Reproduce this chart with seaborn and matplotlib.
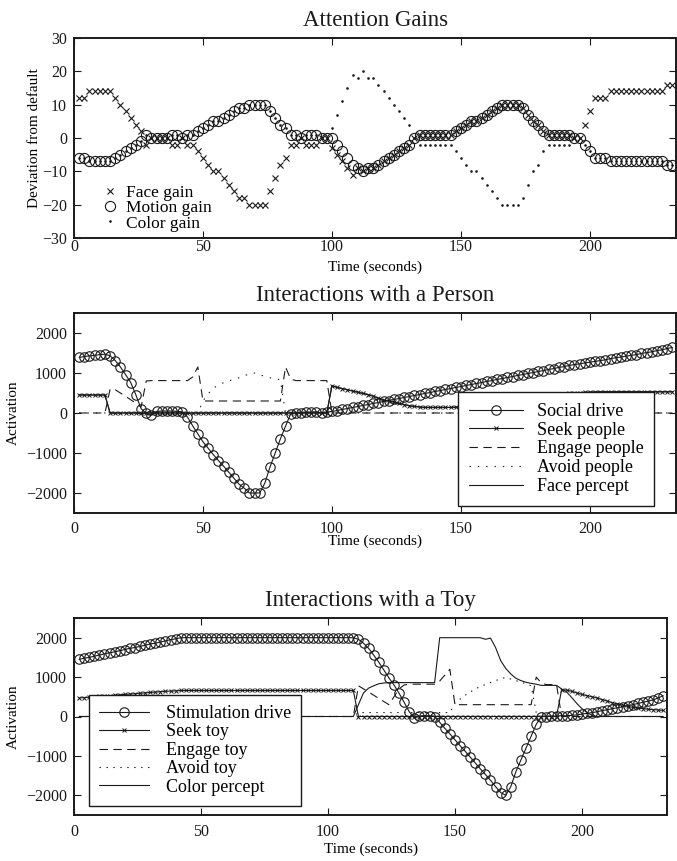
import numpy as np
import pandas as pd
import matplotlib
matplotlib.use("Agg")
import matplotlib.pyplot as plt
import seaborn as sns

# ---------------- data ----------------
TIME = [2, 4, 6, 8, 10, 12, 14, 16, 18, 20,
        22, 24, 26, 28, 30, 32, 34, 36, 38, 40,
        42, 44, 46, 48, 50, 52, 54, 56, 58, 60,
        62, 64, 66, 68, 70, 72, 74, 76, 78, 80,
        82, 84, 86, 88, 90, 92, 94, 96, 98, 100,
        102, 104, 106, 108, 110, 112, 114, 116, 118, 120,
        122, 124, 126, 128, 130, 132, 134, 136, 138, 140,
        142, 144, 146, 148, 150, 152, 154, 156, 158, 160,
        162, 164, 166, 168, 170, 172, 174, 176, 178, 180,
        182, 184, 186, 188, 190, 192, 194, 196, 198, 200,
        202, 204, 206, 208, 210, 212, 214, 216, 218, 220,
        222, 224, 226, 228, 230, 232]

FACE_GAIN = [12, 12, 14, 14, 14, 14, 14, 12, 10, 8,
             6, 4, 2, -2, 0, 0, 0, 0, -2, -2,
             0, -2, -2, -4, -6, -8, -10, -10, -12, -14,
             -16, -18, -18, -20, -20, -20, -20, -16, -12, -8,
             -6, -2, -2, 0, -2, -2, -2, 0, 0, -3,
             -5, -7, -9, -11, -9, -10, -9, -9, -8, -7,
             -6, -5, -4, -3, -2, 0, 1, 1, 1, 1,
             1, 1, 1, 2, 3, 4, 5, 5, 6, 7,
             8, 9, 10, 10, 10, 10, 9, 7, 5, 4,
             2, 1, 1, 1, 1, 1, 0, 0, 4, 8,
             12, 12, 12, 14, 14, 14, 14, 14, 14, 14,
             14, 14, 14, 14, 16, 16]

MOTION_GAIN = [-6, -6, -7, -7, -7, -7, -7, -6, -5, -4,
               -3, -2, -1, 1, 0, 0, 0, 0, 1, 1,
               0, 1, 1, 2, 3, 4, 5, 5, 6, 7,
               8, 9, 9, 10, 10, 10, 10, 8, 6, 4,
               3, 1, 1, 0, 1, 1, 1, 0, 0, 0,
               -2, -4, -6, -8, -9, -10, -9, -9, -8, -7,
               -6, -5, -4, -3, -2, 0, 1, 1, 1, 1,
               1, 1, 1, 2, 3, 4, 5, 5, 6, 7,
               8, 9, 10, 10, 10, 10, 9, 7, 5, 4,
               2, 1, 1, 1, 1, 1, 0, 0, -2, -4,
               -6, -6, -6, -7, -7, -7, -7, -7, -7, -7,
               -7, -7, -7, -7, -8, -8]

COLOR_GAIN = [-6, -6, -7, -7, -7, -7, -7, -6, -5, -4,
              -3, -2, -1, 1, 0, 0, 0, 0, 1, 1,
              0, 1, 1, 2, 3, 4, 5, 5, 6, 7,
              8, 9, 9, 10, 10, 10, 10, 8, 6, 4,
              3, 1, 1, 0, 1, 1, 1, 0, 0, 3,
              7, 11, 15, 19, 18, 20, 18, 18, 16, 14,
              12, 10, 8, 6, 4, 0, -2, -2, -2, -2,
              -2, -2, -2, -4, -6, -8, -10, -10, -12, -14,
              -16, -18, -20, -20, -20, -20, -18, -14, -10, -8,
              -4, -2, -2, -2, -2, -2, 0, 0, -2, -4,
              -6, -6, -6, -7, -7, -7, -7, -7, -7, -7,
              -7, -7, -7, -7, -8, -8]

SOCIAL_DRIVE = [1390, 1410, 1430, 1440, 1460, 1470, 1430, 1310, 1150, 960,
                760, 450, 110, -10, -60, 40, 50, 50, 50, 40,
                30, -100, -320, -520, -720, -880, -1040, -1190, -1330, -1480,
                -1630, -1780, -1880, -2000, -2000, -2000, -1750, -1350, -1000, -650,
                -330, -20, 0, 0, 20, 20, 30, 0, 20, 40,
                60, 90, 110, 140, 160, 190, 210, 240, 260, 290,
                310, 340, 360, 390, 410, 440, 460, 490, 510, 540,
                560, 590, 610, 640, 660, 690, 710, 740, 760, 790,
                810, 840, 860, 890, 910, 940, 960, 990, 1010, 1040,
                1060, 1090, 1110, 1140, 1160, 1190, 1210, 1230, 1250, 1270,
                1290, 1310, 1330, 1360, 1380, 1400, 1420, 1440, 1460, 1490,
                1510, 1530, 1560, 1580, 1610, 1640]

SEEK_PEOPLE = [450, 450, 450, 450, 450, 450, 0, 0, 0, 0,
               0, 0, 0, 0, 0, 0, 0, 0, 0, 0,
               0, 0, 0, 0, 0, 0, 0, 0, 0, 0,
               0, 0, 0, 0, 0, 0, 0, 0, 0, 0,
               0, 0, 0, 0, 0, 0, 0, 0, 0, 680,
               640, 610, 580, 550, 520, 490, 460, 420, 370, 320,
               300, 270, 240, 210, 180, 165, 150, 140, 140, 140,
               140, 140, 140, 145, 150, 160, 175, 190, 205, 225,
               245, 260, 280, 300, 315, 335, 350, 370, 385, 400,
               420, 435, 450, 465, 480, 490, 500, 510, 515, 520,
               525, 528, 530, 530, 530, 530, 530, 530, 530, 530,
               530, 530, 530, 530, 530, 530]

ENGAGE_PEOPLE = [0, 0, 0, 0, 0, 0, 600, 580, 500, 420,
                 330, 250, 150, 800, 810, 810, 810, 810, 810, 810,
                 810, 810, 900, 1150, 300, 300, 300, 300, 300, 300,
                 300, 300, 300, 300, 300, 300, 300, 300, 300, 300,
                 1150, 850, 810, 810, 810, 810, 810, 810, 810, 0,
                 0, 0, 0, 0, 0, 0, 0, 0, 0, 0,
                 0, 0, 0, 0, 0, 0, 0, 0, 0, 0,
                 0, 0, 0, 0, 0, 0, 0, 0, 0, 0,
                 0, 0, 0, 0, 0, 0, 0, 0, 0, 0,
                 0, 0, 0, 0, 0, 0, 0, 0, 0, 0,
                 0, 0, 0, 0, 0, 0, 0, 0, 0, 0,
                 0, 0, 0, 0, 0, 0]

AVOID_PEOPLE = [0, 0, 0, 0, 0, 0, 0, 0, 0, 0,
                0, 0, 0, 0, 0, 0, 0, 0, 0, 0,
                0, 0, 0, 0, 300, 480, 620, 700, 760, 800,
                850, 880, 930, 980, 1000, 950, 920, 880, 860, 830,
                0, 0, 0, 0, 0, 0, 0, 0, 0, 0,
                0, 0, 0, 0, 0, 0, 0, 0, 0, 0,
                0, 0, 0, 0, 0, 0, 0, 0, 0, 0,
                0, 0, 0, 0, 0, 0, 0, 0, 0, 0,
                0, 0, 0, 0, 0, 0, 0, 0, 0, 0,
                0, 0, 0, 0, 0, 0, 0, 0, 0, 0,
                0, 0, 0, 0, 0, 0, 0, 0, 0, 0,
                0, 0, 0, 0, 0, 0]

FACE_PERCEPT = [450, 450, 450, 450, 450, 450, 0, 0, 0, 0,
                0, 0, 0, 0, 0, 0, 0, 0, 0, 0,
                0, 0, 0, 0, 0, 0, 0, 0, 0, 0,
                0, 0, 0, 0, 0, 0, 0, 0, 0, 0,
                0, 0, 0, 0, 0, 0, 0, 0, 0, 680,
                640, 610, 580, 550, 520, 490, 460, 420, 370, 320,
                300, 270, 240, 210, 180, 165, 150, 140, 140, 140,
                140, 140, 140, 145, 150, 160, 175, 190, 205, 225,
                245, 260, 280, 300, 315, 335, 350, 370, 385, 400,
                420, 435, 450, 465, 480, 490, 500, 510, 515, 520,
                525, 528, 530, 530, 530, 530, 530, 530, 530, 530,
                530, 530, 530, 530, 530, 530]

STIM_DRIVE = [1450, 1480, 1500, 1530, 1560, 1590, 1620, 1640, 1670, 1700,
              1730, 1750, 1780, 1810, 1840, 1860, 1890, 1920, 1950, 1970,
              2000, 2000, 2000, 2000, 2000, 2000, 2000, 2000, 2000, 2000,
              2000, 2000, 2000, 2000, 2000, 2000, 2000, 2000, 2000, 2000,
              2000, 2000, 2000, 2000, 2000, 2000, 2000, 2000, 2000, 2000,
              2000, 2000, 2000, 2000, 2000, 1960, 1860, 1730, 1560, 1380,
              1180, 980, 800, 590, 360, 120, -40, 10, 20, 20,
              0, -150, -300, -440, -590, -740, -880, -1030, -1180, -1330,
              -1470, -1620, -1780, -1930, -2000, -1780, -1400, -1100, -800, -500,
              -200, 0, 0, 10, 10, 20, 20, 30, 40, 60,
              80, 100, 120, 150, 170, 200, 220, 250, 270, 300,
              330, 360, 390, 420, 470, 530]

SEEK_TOY = [470, 480, 490, 500, 510, 520, 530, 540, 550, 560,
            570, 580, 590, 600, 610, 620, 630, 640, 645, 650,
            660, 660, 660, 660, 660, 660, 660, 660, 660, 660,
            660, 660, 660, 660, 660, 660, 660, 660, 660, 660,
            660, 660, 660, 660, 660, 660, 660, 660, 660, 660,
            660, 660, 660, 660, 660, 0, 0, 0, 0, 0,
            0, 0, 0, 0, 0, 0, 0, 0, 0, 0,
            0, 0, 0, 0, 0, 0, 0, 0, 0, 0,
            0, 0, 0, 0, 0, 0, 0, 0, 0, 0,
            0, 0, 0, 0, 0, 680, 670, 640, 600, 560,
            530, 500, 470, 430, 390, 350, 320, 290, 260, 230,
            215, 200, 185, 175, 165, 155]

ENGAGE_TOY = [0, 0, 0, 0, 0, 0, 0, 0, 0, 0,
              0, 0, 0, 0, 0, 0, 0, 0, 0, 0,
              0, 0, 0, 0, 0, 0, 0, 0, 0, 0,
              0, 0, 0, 0, 0, 0, 0, 0, 0, 0,
              0, 0, 0, 0, 0, 0, 0, 0, 0, 0,
              0, 0, 0, 0, 0, 780, 700, 620, 540, 460,
              380, 300, 500, 700, 800, 820, 820, 820, 820, 820,
              820, 900, 1050, 1200, 300, 300, 300, 300, 300, 300,
              300, 300, 300, 300, 300, 300, 300, 300, 300, 300,
              1000, 850, 810, 810, 810, 0, 0, 0, 0, 0,
              0, 0, 0, 0, 0, 0, 0, 0, 0, 0,
              0, 0, 0, 0, 0, 0]

AVOID_TOY = [0, 0, 0, 0, 0, 0, 0, 0, 0, 0,
             0, 0, 0, 0, 0, 0, 0, 0, 0, 0,
             0, 0, 0, 0, 0, 0, 0, 0, 0, 0,
             0, 0, 0, 0, 0, 0, 0, 0, 0, 0,
             0, 0, 0, 0, 0, 0, 0, 0, 0, 0,
             0, 0, 0, 0, 0, 100, 100, 100, 100, 100,
             100, 100, 100, 100, 100, 100, 100, 100, 100, 100,
             100, 100, 100, 100, 340, 440, 540, 620, 700, 760,
             810, 860, 910, 960, 990, 950, 910, 870, 830, 780,
             100, 100, 100, 100, 100, 0, 0, 0, 0, 0,
             0, 0, 0, 0, 0, 0, 0, 0, 0, 0,
             0, 0, 0, 0, 0, 0]

COLOR_PERCEPT = [0, 0, 0, 0, 0, 0, 0, 0, 0, 0,
                 0, 0, 0, 0, 0, 0, 0, 0, 0, 0,
                 0, 0, 0, 0, 0, 0, 0, 0, 0, 0,
                 0, 0, 0, 0, 0, 0, 0, 0, 0, 0,
                 0, 0, 0, 0, 0, 0, 0, 0, 0, 0,
                 0, 0, 0, 0, 0, 300, 600, 720, 780, 830,
                 850, 860, 860, 860, 860, 860, 860, 860, 860, 860,
                 860, 2000, 2000, 2000, 2000, 2000, 2000, 2000, 2000, 2000,
                 1960, 1990, 1750, 1420, 1220, 1080, 970, 910, 870, 840,
                 820, 790, 790, 790, 790, 700, 620, 480, 330, 200,
                 100, 30, 0, 0, 0, 0, 0, 0, 0, 0,
                 0, 0, 0, 0, 0, 0]

GAIN_LABELS = ["Face gain", "Motion gain", "Color gain"]
PERSON_LABELS = ["Social drive", "Seek people", "Engage people", "Avoid people", "Face percept"]
TOY_LABELS = ["Stimulation drive", "Seek toy", "Engage toy", "Avoid toy", "Color percept"]
TITLES = ["Attention Gains", "Interactions with a Person", "Interactions with a Toy"]
XTICKS = [0, 50, 100, 150, 200]

# ---------------- style ----------------
sns.set_theme(style="ticks")
plt.rcParams["font.family"] = ["Liberation Serif", "DejaVu Serif"]
plt.rcParams["axes.unicode_minus"] = True
plt.rcParams["lines.scale_dashes"] = False
plt.rcParams["text.color"] = "black"
plt.rcParams["axes.labelcolor"] = "black"

W, H = 677, 861
fig = plt.figure(figsize=(W / 100, H / 100), dpi=100)
fig.patch.set_facecolor("white")


def px_axes(l, t, r, b):
    return fig.add_axes([l / W, 1 - b / H, (r - l) / W, (b - t) / H])


ax1 = px_axes(74, 38, 676.3, 238)
ax2 = px_axes(74, 313, 676.3, 513)
ax3 = px_axes(74, 618, 667, 815)


def style(ax, ylim, yticks, title, ylabel, xpad, ylab_x, xlab_y):
    ax.set_facecolor("white")
    ax.set_xlim(0, 233.5)
    ax.set_ylim(*ylim)
    ax.set_xticks(XTICKS)
    ax.set_yticks(yticks)
    ax.tick_params(direction="in", top=True, right=True, length=5, width=0.8,
                   labelsize=11.5, color="k", labelcolor="k")
    ax.tick_params(axis="x", pad=xpad)
    ax.tick_params(axis="y", pad=5)
    for s in ax.spines.values():
        s.set_visible(True)
        s.set_linewidth(1.4)
        s.set_color("k")
    ax.set_title(title, fontsize=16.5, pad=8.5, color="k")
    ax.set_xlabel("Time (seconds)", fontsize=11)
    ax.set_ylabel(ylabel, fontsize=11)
    ax.xaxis.set_label_coords(0.5, xlab_y)
    ax.yaxis.set_label_coords(ylab_x, 0.5)


LW = 0.8

# ---------------- panel 1 ----------------
df1 = pd.DataFrame({"t": TIME, "face": FACE_GAIN, "motion": MOTION_GAIN, "color": COLOR_GAIN})
h1 = []
sns.lineplot(data=df1, x="t", y="face", ax=ax1, estimator=None, sort=False, legend=False,
             color="k", linestyle="none", marker="x", markersize=4.5,
             markeredgewidth=0.8, markeredgecolor="k")
h1.append(ax1.lines[-1])
sns.lineplot(data=df1, x="t", y="motion", ax=ax1, estimator=None, sort=False, legend=False,
             color="k", linestyle="none", marker="o", markersize=7.3,
             markerfacecolor="none", markeredgewidth=0.8, markeredgecolor="k")
h1.append(ax1.lines[-1])
sns.lineplot(data=df1, x="t", y="color", ax=ax1, estimator=None, sort=False, legend=False,
             color="k", linestyle="none", marker="o", markersize=1.9,
             markerfacecolor="k", markeredgewidth=0.0, markeredgecolor="k")
h1.append(ax1.lines[-1])
style(ax1, (-30, 30), [-30, -20, -10, 0, 10, 20, 30], TITLES[0],
      "Deviation from default", 1.0, -0.054, -0.115)
leg1 = ax1.legend(h1, GAIN_LABELS, loc="lower left", bbox_to_anchor=(0.04, 0.015),
                  frameon=False, fontsize=12.5, handlelength=1.0, handletextpad=0.4,
                  labelspacing=-0.05, borderaxespad=0, borderpad=0.2, numpoints=1)

# ---------------- panel 2 ----------------
df2 = pd.DataFrame({"t": TIME, "social": SOCIAL_DRIVE, "seek": SEEK_PEOPLE,
                    "engage": ENGAGE_PEOPLE, "avoid": AVOID_PEOPLE, "face": FACE_PERCEPT})
h2 = []
sns.lineplot(data=df2, x="t", y="social", ax=ax2, estimator=None, sort=False, legend=False,
             color="k", linewidth=LW, marker="o", markersize=6.8,
             markerfacecolor="none", markeredgewidth=0.8, markeredgecolor="k")
h2.append(ax2.lines[-1])
sns.lineplot(data=df2, x="t", y="seek", ax=ax2, estimator=None, sort=False, legend=False,
             color="k", linewidth=LW, marker="x", markersize=3,
             markeredgewidth=0.7, markeredgecolor="k")
h2.append(ax2.lines[-1])
sns.lineplot(data=df2, x="t", y="engage", ax=ax2, estimator=None, sort=False, legend=False,
             color="k", linewidth=LW, linestyle=(0, (6, 4)))
h2.append(ax2.lines[-1])
sns.lineplot(data=df2, x="t", y="avoid", ax=ax2, estimator=None, sort=False, legend=False,
             color="k", linewidth=LW, linestyle=(0, (1, 5)))
h2.append(ax2.lines[-1])
sns.lineplot(data=df2, x="t", y="face", ax=ax2, estimator=None, sort=False, legend=False,
             color="k", linewidth=LW)
h2.append(ax2.lines[-1])
style(ax2, (-2500, 2500), [-2000, -1000, 0, 1000, 2000], TITLES[1],
      "Activation", 5.5, -0.0896, -0.11)
leg2 = ax2.legend(h2, PERSON_LABELS, loc="upper left", bbox_to_anchor=(0.638, 0.605),
                  frameon=True, fancybox=False, edgecolor="k", framealpha=1,
                  fontsize=13, handlelength=3.0, handletextpad=0.75,
                  labelspacing=0.1, borderaxespad=0, borderpad=0.6, numpoints=1)
leg2.get_frame().set_linewidth(1.0)

# ---------------- panel 3 ----------------
df3 = pd.DataFrame({"t": TIME, "stim": STIM_DRIVE, "seek": SEEK_TOY,
                    "engage": ENGAGE_TOY, "avoid": AVOID_TOY, "color": COLOR_PERCEPT})
h3 = []
sns.lineplot(data=df3, x="t", y="stim", ax=ax3, estimator=None, sort=False, legend=False,
             color="k", linewidth=LW, marker="o", markersize=6.8,
             markerfacecolor="none", markeredgewidth=0.8, markeredgecolor="k")
h3.append(ax3.lines[-1])
sns.lineplot(data=df3, x="t", y="seek", ax=ax3, estimator=None, sort=False, legend=False,
             color="k", linewidth=LW, marker="x", markersize=3,
             markeredgewidth=0.7, markeredgecolor="k")
h3.append(ax3.lines[-1])
sns.lineplot(data=df3, x="t", y="engage", ax=ax3, estimator=None, sort=False, legend=False,
             color="k", linewidth=LW, linestyle=(0, (6, 4)))
h3.append(ax3.lines[-1])
sns.lineplot(data=df3, x="t", y="avoid", ax=ax3, estimator=None, sort=False, legend=False,
             color="k", linewidth=LW, linestyle=(0, (1, 4)))
h3.append(ax3.lines[-1])
sns.lineplot(data=df3, x="t", y="color", ax=ax3, estimator=None, sort=False, legend=False,
             color="k", linewidth=LW)
h3.append(ax3.lines[-1])
style(ax3, (-2500, 2500), [-2000, -1000, 0, 1000, 2000], TITLES[2],
      "Activation", 6.5, -0.091, -0.142)
leg3 = ax3.legend(h3, TOY_LABELS, loc="upper left", bbox_to_anchor=(0.0253, 0.609),
                  frameon=True, fancybox=False, edgecolor="k", framealpha=1,
                  fontsize=13, handlelength=2.8, handletextpad=0.9,
                  labelspacing=0.08, borderaxespad=0, borderpad=0.55, numpoints=1)
leg3.get_frame().set_linewidth(1.0)

fig.savefig("out.png", dpi=100, facecolor="white")
